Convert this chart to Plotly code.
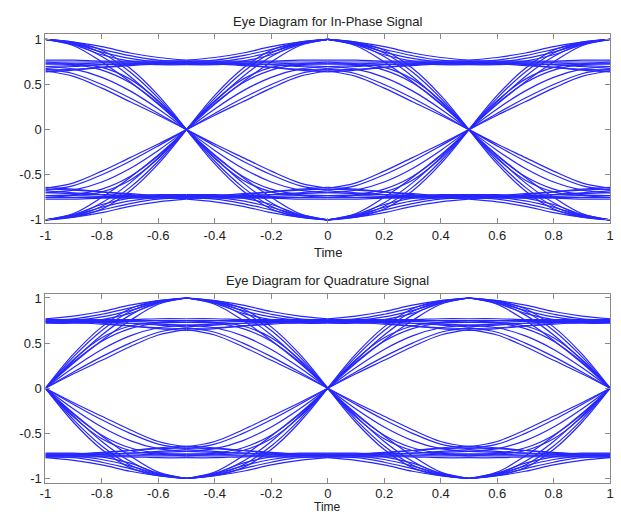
import plotly.graph_objects as go

# ---------------- data ----------------
# local time inside one half-symbol interval (sampling instant -> mid-symbol)
half_t = [0.0, 0.1, 0.2, 0.3, 0.4, 0.5]

# traces falling from a sampling level to the zero crossing
seg_f1 = [1.00, 0.97, 0.88, 0.68, 0.38, 0.00]
seg_f2 = [1.00, 0.96, 0.85, 0.64, 0.35, 0.00]
seg_f3 = [1.00, 0.95, 0.81, 0.59, 0.31, 0.00]
seg_f4 = [1.00, 0.93, 0.75, 0.53, 0.28, 0.00]
seg_f5 = [0.75, 0.73, 0.69, 0.56, 0.32, 0.00]
seg_f6 = [0.73, 0.72, 0.66, 0.52, 0.29, 0.00]
seg_f7 = [0.70, 0.67, 0.58, 0.43, 0.23, 0.00]
seg_f8 = [0.67, 0.62, 0.50, 0.35, 0.18, 0.00]
seg_f9 = [0.65, 0.59, 0.46, 0.31, 0.16, 0.00]

# outer envelope traces: peak 1 down to the ~0.75 band
seg_d1 = [1.00, 0.97, 0.92, 0.85, 0.80, 0.77]
seg_d2 = [1.00, 0.96, 0.89, 0.82, 0.77, 0.76]
seg_d3 = [1.00, 0.95, 0.86, 0.79, 0.75, 0.74]
seg_d4 = [1.00, 0.94, 0.83, 0.76, 0.73, 0.73]

# the ~0.7 flat band
seg_b1 = [0.77, 0.77, 0.76, 0.76, 0.76, 0.76]
seg_b2 = [0.75, 0.75, 0.75, 0.75, 0.75, 0.75]
seg_b3 = [0.73, 0.73, 0.74, 0.74, 0.74, 0.74]
seg_b4 = [0.70, 0.71, 0.72, 0.73, 0.74, 0.74]
seg_b5 = [0.68, 0.70, 0.72, 0.73, 0.72, 0.72]
seg_b6 = [0.66, 0.67, 0.69, 0.71, 0.73, 0.73]
seg_b7 = [0.64, 0.66, 0.69, 0.72, 0.74, 0.75]

half_starts = [-1.0, -0.5, 0.0, 0.5]
i_sample_times = [-1.0, 0.0, 1.0]
q_sample_times = [-0.5, 0.5]

x_tick_vals = [-1, -0.8, -0.6, -0.4, -0.2, 0, 0.2, 0.4, 0.6, 0.8, 1]
x_tick_text = ["-1", "-0.8", "-0.6", "-0.4", "-0.2", "0", "0.2", "0.4", "0.6", "0.8", "1"]
y_tick_vals = [-1, -0.5, 0, 0.5, 1]
y_tick_text = ["-1", "-0.5", "0", "0.5", "1"]

title_i = "Eye Diagram for In-Phase Signal"
title_q = "Eye Diagram for Quadrature Signal"
x_label = "Time"

segments = [seg_f1, seg_f2, seg_f3, seg_f4, seg_f5, seg_f6, seg_f7, seg_f8, seg_f9,
            seg_d1, seg_d2, seg_d3, seg_d4,
            seg_b1, seg_b2, seg_b3, seg_b4, seg_b5, seg_b6, seg_b7]


def build(sample_times):
    xs, ys = [], []
    for start in half_starts:
        forward = start in sample_times
        for seg in segments:
            for sign in (1, -1):
                for u, v in zip(half_t, seg):
                    xs.append(start + u if forward else start + 0.5 - u)
                    ys.append(sign * v)
                xs.append(None)
                ys.append(None)
    return xs, ys


ix, iy = build(i_sample_times)
qx, qy = build(q_sample_times)

W, H = 621, 519
FONT = "Liberation Sans, Arial, sans-serif"
line_style = dict(color="rgb(0,0,255)", width=1.2, shape="spline")

fig = go.Figure()
fig.add_trace(go.Scatter(x=ix, y=iy, mode="lines", line=line_style, opacity=0.85,
                         xaxis="x", yaxis="y", showlegend=False, hoverinfo="skip"))
fig.add_trace(go.Scatter(x=qx, y=qy, mode="lines", line=line_style, opacity=0.85,
                         xaxis="x2", yaxis="y2", showlegend=False, hoverinfo="skip"))

xd = [40 / W, 614 / W]
y1d = [1 - 223 / H, 1 - 31 / H]
y2d = [1 - 487 / H, 1 - 295 / H]

axis_common = dict(showgrid=False, zeroline=False, showline=True, linecolor="#8a8a8a",
                   linewidth=1, mirror="ticks", ticks="inside", ticklen=5,
                   tickcolor="#8a8a8a", tickfont=dict(family=FONT, size=13, color="#222"))

fig.update_layout(
    width=W, height=H, margin=dict(l=0, r=0, t=0, b=0),
    paper_bgcolor="white", plot_bgcolor="white",
    xaxis=dict(domain=xd, range=[-1, 1], tickvals=x_tick_vals, ticktext=x_tick_text,
               anchor="y", **axis_common),
    yaxis=dict(domain=y1d, range=[-1.035, 1.065], tickvals=y_tick_vals, ticktext=y_tick_text,
               anchor="x", **axis_common),
    xaxis2=dict(domain=xd, range=[-1, 1], tickvals=x_tick_vals, ticktext=x_tick_text,
                anchor="y2", ticklabelstandoff=-2, **axis_common),
    yaxis2=dict(domain=y2d, range=[-1.055, 1.044], tickvals=y_tick_vals, ticktext=y_tick_text,
                anchor="x2", **axis_common),
)

xc = (40 + 614) / 2 / W
for text, ypix, fs in [(title_i, 19, 13), (x_label, 253, 13), (title_q, 281, 13)]:
    fig.add_annotation(text=text, x=xc, y=1 - ypix / H, xref="paper", yref="paper",
                       xanchor="center", yanchor="middle", showarrow=False,
                       font=dict(family=FONT, size=fs, color="#222"))
fig.add_annotation(text=x_label, x=xc, y=0, xref="paper", yref="paper",
                   xanchor="center", yanchor="bottom", showarrow=False, borderpad=0,
                   font=dict(family=FONT, size=12, color="#222"))

fig.write_html("out.html", config={"displayModeBar": False},
               post_script="document.body.style.margin='0';document.body.style.overflow='hidden';")
